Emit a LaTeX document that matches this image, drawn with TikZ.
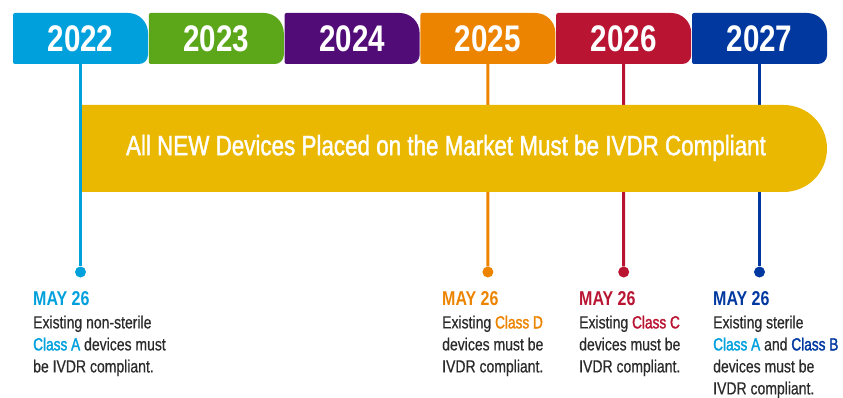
\documentclass[tikz,border=0pt]{standalone}
\usepackage{fontspec}
\setmainfont{Liberation Sans}[FakeStretch=0.8]
\newfontfamily\medfont{Liberation Sans}[FakeStretch=0.8,FakeBold=1.4]
\newfontfamily\bodyfont{Liberation Sans}[FakeStretch=0.8,FakeBold=0.5]
\newfontfamily\clsfont{Liberation Sans}[FakeStretch=0.78,FakeBold=1.6]
\usetikzlibrary{shapes.misc}
\definecolor{c22}{RGB}{0,160,220}
\definecolor{c23}{RGB}{92,166,26}
\definecolor{c24}{RGB}{82,12,120}
\definecolor{c25}{RGB}{236,132,0}
\definecolor{c26}{RGB}{185,20,50}
\definecolor{c27}{RGB}{0,56,160}
\definecolor{barcol}{RGB}{234,184,0}
\definecolor{txt}{RGB}{43,43,43}
\newcommand{\cls}[2]{\textcolor{#1}{\clsfont#2}}
\begin{document}
\begin{tikzpicture}[x=1pt,y=-1pt,
        year/.style={text=white,font=\bfseries\fontsize{37}{37}\selectfont,inner sep=0pt},
        stem/.style={draw=#1,line width=3pt},
        pin/.style={circle,fill=#1,minimum size=11pt,inner sep=0pt},
        date/.style={text=#1,font=\bfseries\fontsize{20}{20}\selectfont,anchor=base west,inner sep=0pt},
        body/.style={text=txt,font=\bodyfont\fontsize{17.5}{22}\selectfont,align=left,anchor=north west,inner sep=0pt},
        ]
        \useasboundingbox (0,0) rectangle (843,398);
        \foreach \yr/\col [count=\i from 0] in {2022/c22,2023/c23,2024/c24,2025/c25,2026/c26,2027/c27}{
            \fill[\col,rounded corners=2pt] (13+135.8*\i,64) -- (13+135.8*\i,13) [rounded corners=20pt] -- (148+135.8*\i,13) [rounded corners=9pt] -- (148+135.8*\i,64) [rounded corners=2pt] -- cycle;
            \node[year] (y\yr) at (80.5+135.8*\i,38.5) {\yr};
        }
        \node[pin=c22] (p22) at (80.5,272) {};
        \node[pin=c25] (p25) at (487.9,272) {};
        \node[pin=c26] (p26) at (623.7,272) {};
        \node[pin=c27] (p27) at (759.5,272) {};
        \draw[stem=c22] (y2022.south) -- (p22);
        \draw[stem=c25] (y2025.south) -- (p25);
        \draw[stem=c26] (y2026.south) -- (p26);
        \draw[stem=c27] (y2027.south) -- (p27);
        \node[rounded rectangle,rounded rectangle west arc=none,fill=barcol,minimum width=745pt,minimum height=87pt,inner sep=0pt] (bar) at (454.5,148.5) {};
        \node[text=white,font=\medfont\fontsize{28}{28}\selectfont,inner sep=0pt] (msg) at (446,148) {All NEW Devices Placed on the Market Must be IVDR Compliant};
        \node[date=c22] (d22) at (33,305) {MAY 26};
        \node[date=c25] (d25) at (442,305) {MAY 26};
        \node[date=c26] (d26) at (579,305) {MAY 26};
        \node[date=c27] (d27) at (713,305) {MAY 26};
        \node[body] (t22) at (33,315.5) {Existing non-sterile\\\cls{c22}{Class A} devices must\\be IVDR compliant.};
        \node[body] (t25) at (442,315.5) {Existing \cls{c25}{Class D}\\devices must be\\IVDR compliant.};
        \node[body] (t26) at (579,315.5) {Existing \cls{c26}{Class C}\\devices must be\\IVDR compliant.};
        \node[body] (t27) at (713,315.5) {Existing sterile\\\cls{c22}{Class A} and \cls{c27}{Class B}\\devices must be\\IVDR compliant.};
\end{tikzpicture}
\end{document}
